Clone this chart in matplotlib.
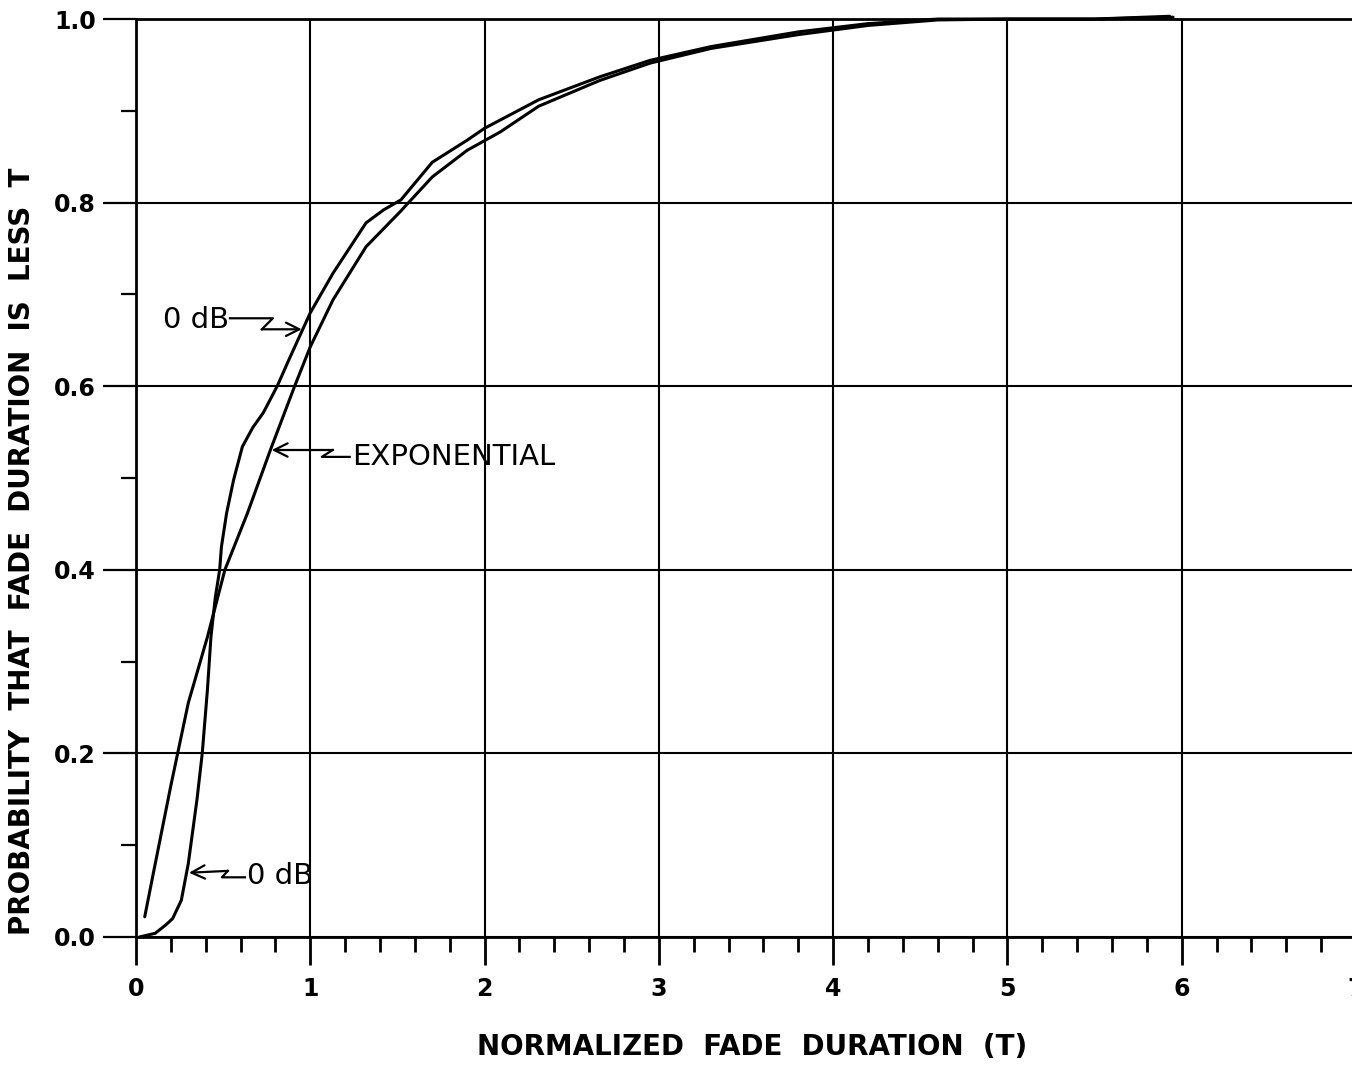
import matplotlib
matplotlib.use("Agg")
import matplotlib.pyplot as plt
from matplotlib.ticker import MultipleLocator

plt.rcParams.update({
    'font.family': 'DejaVu Sans',
    'axes.linewidth': 2.0,
})

# ── Data ──────────────────────────────────────────────────────────────
# 0 dB measured fade-duration distribution
t_0db = [0.02, 0.11, 0.17, 0.21, 0.26, 0.30, 0.35, 0.38, 0.41, 0.43, 0.455,
         0.48, 0.49, 0.52, 0.56, 0.61, 0.67, 0.73, 0.81, 0.88, 0.94, 1.00,
         1.13, 1.32, 1.42, 1.52, 1.70, 1.90, 2.00, 2.31, 2.66, 2.95, 3.30,
         3.80, 4.20, 4.60, 5.00, 5.50, 5.93]
p_0db = [0.000, 0.004, 0.013, 0.020, 0.040, 0.080, 0.150, 0.200, 0.270, 0.327,
         0.370, 0.400, 0.425, 0.462, 0.498, 0.534, 0.555, 0.571, 0.600, 0.630,
         0.655, 0.680, 0.723, 0.778, 0.792, 0.803, 0.844, 0.868, 0.881, 0.912,
         0.937, 0.955, 0.970, 0.986, 0.995, 1.000, 1.000, 1.000, 1.003]

# exponential reference distribution
t_exp = [0.05, 0.10, 0.20, 0.30, 0.41, 0.51, 0.64, 0.77, 0.91, 1.00, 1.13,
         1.32, 1.51, 1.70, 1.90, 2.09, 2.31, 2.66, 2.95, 3.30, 3.80, 4.20,
         4.60, 5.00, 5.50, 5.95]
p_exp = [0.022, 0.070, 0.165, 0.255, 0.327, 0.400, 0.462, 0.530, 0.600, 0.643,
         0.694, 0.752, 0.789, 0.828, 0.857, 0.877, 0.905, 0.933, 0.952, 0.968,
         0.983, 0.993, 0.999, 1.000, 1.000, 1.002]

x_ticks = [0, 1, 2, 3, 4, 5, 6, 7]
y_ticks = [0.0, 0.2, 0.4, 0.6, 0.8, 1.0]
y_tick_labels = ['0.0', '0.2', '0.4', '0.6', '0.8', '1.0']

# ── Figure ────────────────────────────────────────────────────────────
fig = plt.figure(figsize=(13.52, 10.69), dpi=100)
ax = fig.add_axes([0.1006, 0.1235, 0.9024, 0.8587])

ax.set_xlim(0, 7)
ax.set_ylim(0, 1.0)
ax.spines['right'].set_visible(False)

ax.set_xticks(x_ticks)
ax.set_xticklabels([str(v) for v in x_ticks], fontweight='bold')
ax.set_yticks(y_ticks)
ax.set_yticklabels(y_tick_labels, fontweight='bold')
ax.xaxis.set_minor_locator(MultipleLocator(0.2))
ax.yaxis.set_minor_locator(MultipleLocator(0.1))

ax.tick_params(axis='y', which='major', direction='out', length=24, width=1.6,
               labelsize=17, pad=5)
ax.tick_params(axis='y', which='minor', direction='out', length=11, width=1.6)
ax.tick_params(axis='x', which='major', direction='out', length=20, width=2.0,
               labelsize=17, pad=9)
ax.tick_params(axis='x', which='minor', direction='out', length=11, width=2.0)

ax.grid(True, which='major', color='black', lw=1.5)
ax.set_axisbelow(True)

ax.plot(t_0db, p_0db, color='black', lw=2.2, solid_capstyle='round', clip_on=False)
ax.plot(t_exp, p_exp, color='black', lw=2.2, solid_capstyle='round', clip_on=False)

ax.set_xlabel('NORMALIZED  FADE  DURATION  (T)', fontsize=20, fontweight='bold')
ax.set_ylabel('PROBABILITY  THAT  FADE  DURATION  IS  LESS  T', fontsize=20,
              fontweight='bold')
ax.xaxis.set_label_coords(0.505, -0.105)
ax.yaxis.set_label_coords(-0.082, 0.42)


# zig-zag leader line ending in an arrowhead
def zigzag(path, text, text_xy, ha='left'):
    xs = [p[0] for p in path]
    ys = [p[1] for p in path]
    ax.plot(xs[:-1], ys[:-1], color='black', lw=1.6)
    ax.annotate('', xy=path[-1], xytext=path[-2],
                arrowprops=dict(arrowstyle='->', color='black', lw=1.6,
                                mutation_scale=24, shrinkA=0, shrinkB=0))
    ax.text(text_xy[0], text_xy[1], text, fontsize=21, ha=ha, va='center')


zigzag([(0.539, 0.674), (0.785, 0.674), (0.722, 0.662), (0.951, 0.662)],
       '0 dB', (0.535, 0.672), ha='right')
zigzag([(1.226, 0.523), (1.066, 0.523), (1.129, 0.5305), (0.779, 0.5305)],
       'EXPONENTIAL', (1.24, 0.523))
zigzag([(0.625, 0.065), (0.493, 0.065), (0.527, 0.072), (0.304, 0.070)],
       '0 dB', (0.636, 0.066))

fig.savefig('out.png', dpi=100)
